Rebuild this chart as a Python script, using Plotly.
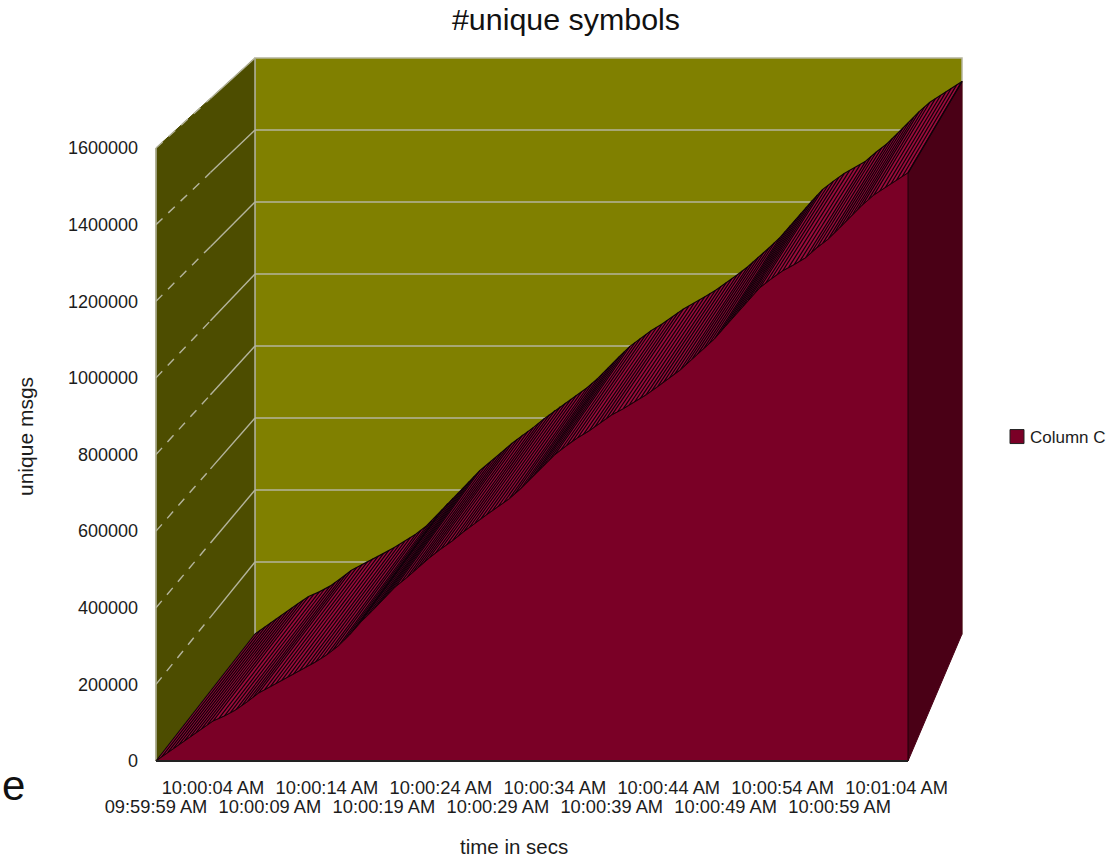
import numpy as np
import plotly.graph_objects as go

# Unique message count sampled once per second, starting at 09:59:59 AM
seconds = list(range(67))
unique_msgs = [
    0, 21000, 42000, 63000, 84000, 104000, 117000, 133000, 154000, 177000,
    193000, 209000, 224000, 240000, 258000, 277000, 300000, 329000, 363000, 392000,
    423000, 454000, 478000, 504000, 530000, 553000, 574000, 598000, 621000, 642000,
    663000, 684000, 710000, 739000, 770000, 799000, 822000, 843000, 861000, 882000,
    903000, 919000, 937000, 955000, 976000, 997000, 1020000, 1047000, 1073000, 1101000,
    1135000, 1169000, 1203000, 1235000, 1258000, 1279000, 1295000, 1313000, 1339000, 1362000,
    1391000, 1420000, 1451000, 1477000, 1496000, 1516000, 1535000,
]
row1_seconds = [5, 15, 25, 35, 45, 55, 65]
row1_labels = ["10:00:04 AM", "10:00:14 AM", "10:00:24 AM", "10:00:34 AM",
               "10:00:44 AM", "10:00:54 AM", "10:01:04 AM"]
row2_seconds = [0, 10, 20, 30, 40, 50, 60]
row2_labels = ["09:59:59 AM", "10:00:09 AM", "10:00:19 AM", "10:00:29 AM",
               "10:00:39 AM", "10:00:49 AM", "10:00:59 AM"]
value_ticks = [0, 200000, 400000, 600000, 800000, 1000000, 1200000, 1400000, 1600000]

# Canvas and the front face of the box, in pixels
W, H = 1118, 858
FRONT_L, FRONT_R, FRONT_T, FRONT_B = 156, 908, 148, 761
# Rear face of the box, in pixels (perspective makes it slightly smaller)
BACK_L, BACK_R, BACK_T, BACK_B = 255, 962, 58, 634

T_MAX = seconds[-1]
V_MAX = value_ticks[-1]
px_per_s = (FRONT_R - FRONT_L) / T_MAX
v_per_px = V_MAX / (FRONT_B - FRONT_T)
x_range = [-FRONT_L / px_per_s, (W - FRONT_L) / px_per_s]
y_range = [(FRONT_B - H) * v_per_px, FRONT_B * v_per_px]


def to_back(t, v):
    """Project a front-plane (time, value) point onto the rear plane of the box."""
    t, v = np.asarray(t, float), np.asarray(v, float)
    sx = (BACK_R - BACK_L) / (FRONT_R - FRONT_L)
    sy = (BACK_B - BACK_T) / (FRONT_B - FRONT_T)
    return (BACK_L - FRONT_L) / px_per_s + t * sx, (FRONT_B - BACK_B) * v_per_px + v * sy


def poly(xs, ys, fill, line=None, width=1, name=None):
    return go.Scatter(x=list(xs), y=list(ys), mode="lines", fill="toself", fillcolor=fill,
                      line=dict(color=line or fill, width=width), hoverinfo="skip",
                      showlegend=False, name=name)


OLIVE, OLIVE_DARK = "#808000", "#4d4d00"
AREA, AREA_SIDE = "#7a0026", "#4a0016"
GRID = "#b4b49c"

t = np.array(seconds, float)
v = np.array(unique_msgs, float)
bt, bv = to_back(t, v)

traces = []

# Rear wall
cx, cy = to_back([0, T_MAX, T_MAX, 0, 0], [0, 0, V_MAX, V_MAX, 0])
traces.append(poly(cx, cy, OLIVE, GRID, 1.5))

# Left wall
lx, ly = to_back([0, 0], [0, V_MAX])
traces.append(poly([0, 0, lx[1], lx[0], 0], [0, V_MAX, ly[1], ly[0], 0], OLIVE_DARK))
traces.append(go.Scatter(x=[0, 0, None, lx[0], lx[1]], y=[0, V_MAX, None, ly[0], ly[1]],
                         mode="lines", line=dict(color=GRID, width=1.5),
                         hoverinfo="skip", showlegend=False))

# Horizontal gridlines on the rear wall, running on along the left wall
for tick in value_ticks[1:]:
    gx, gy = to_back([0, T_MAX], [tick, tick])
    if tick < V_MAX:
        traces.append(go.Scatter(x=gx, y=gy, mode="lines", line=dict(color=GRID, width=1.5),
                                 hoverinfo="skip", showlegend=False))
    # solid near the rear wall, breaking up towards the front
    mx, my = (gx[0] * 0.55, gy[0] * 0.55 + tick * 0.45)
    traces.append(go.Scatter(x=[mx, gx[0]], y=[my, gy[0]], mode="lines",
                             line=dict(color=GRID, width=1.4),
                             hoverinfo="skip", showlegend=False))
    traces.append(go.Scatter(x=[0, mx], y=[tick, my], mode="lines",
                             line=dict(color=GRID, width=1.4, dash="9px,8px"),
                             hoverinfo="skip", showlegend=False))

# Right end of the area, receding to the rear plane
ex, ey = to_back([T_MAX, T_MAX], [0, v[-1]])
traces.append(poly([T_MAX, T_MAX, ex[1], ex[0], T_MAX], [0, v[-1], ey[1], ey[0], 0], AREA_SIDE))

# Upper surface of the area, with a dark facet edge every half second
traces.append(poly(np.r_[t, bt[::-1]], np.r_[v, bv[::-1]], "#9a0c3a", "#10000a", 1.2))
facet_t = np.arange(0, T_MAX + 0.01, 0.5)
facet_v = np.interp(facet_t, t, v)
fbx, fby = to_back(facet_t, facet_v)
hx, hy = [], []
for a, b, c, d in zip(facet_t, facet_v, fbx, fby):
    hx += [a, c, None]
    hy += [b, d, None]
traces.append(go.Scatter(x=hx, y=hy, mode="lines", line=dict(color="#10000a", width=1.2),
                         hoverinfo="skip", showlegend=False))

# Front face of the area
traces.append(poly(np.r_[t, T_MAX, 0, 0], np.r_[v, 0, 0, 0], AREA, "#1c0008", 1))
# Floor line along the bottom of the front face
traces.append(go.Scatter(x=[0, T_MAX], y=[0, 0], mode="lines", line=dict(color="#222222", width=2),
                         hoverinfo="skip", showlegend=False))

# Legend key; it also ties the second time axis into the figure
traces.append(go.Scatter(x=[None], y=[None], xaxis="x2", mode="markers", name="Column C",
                         marker=dict(symbol="square", size=14, color=AREA, angle=90, standoff=7,
                                     line=dict(color="#222222", width=1))))

fig = go.Figure(traces)

FONT = "Liberation Sans"
TEXT = "#1c1c1c"
x_pos = 1 - FRONT_B / H
common_x = dict(range=x_range, domain=[0, 1], anchor="free", position=x_pos, side="bottom",
                showgrid=False, zeroline=False, showline=False, ticks="", tickangle=0,
                tickfont=dict(family=FONT, size=18.3, color=TEXT))
fig.update_layout(
    width=W, height=H, autosize=False,
    margin=dict(l=0, r=0, t=0, b=0),
    paper_bgcolor="white", plot_bgcolor="white",
    font=dict(family=FONT, color=TEXT),
    title=dict(text="#unique symbols", x=566 / W, y=1 - 19 / H, xanchor="center", yanchor="middle",
               font=dict(family=FONT, size=30.4, color="#111111")),
    xaxis=dict(tickmode="array", tickvals=row1_seconds, ticktext=row1_labels,
               ticklabelstandoff=14, **common_x),
    xaxis2=dict(tickmode="array", tickvals=row2_seconds, ticktext=row2_labels,
                ticklabelstandoff=33, overlaying="x", **common_x),
    yaxis=dict(range=y_range, domain=[0, 1], anchor="free", position=FRONT_L / W, side="left",
               tickmode="array", tickvals=value_ticks, ticktext=[str(x) for x in value_ticks],
               showgrid=False, zeroline=False, showline=False, ticks="", ticklabelstandoff=18,
               tickfont=dict(family=FONT, size=18, color=TEXT)),
    legend=dict(x=990 / W, y=1 - 437 / H, xanchor="left", yanchor="middle",
                bgcolor="rgba(0,0,0,0)", font=dict(family=FONT, size=17, color=TEXT)),
    annotations=[
        dict(text="unique msgs", x=25 / W, y=1 - 437 / H, xref="paper", yref="paper", textangle=-90,
             showarrow=False, xanchor="center", yanchor="middle", font=dict(family=FONT, size=21, color=TEXT)),
        dict(text="time in secs", x=514 / W, y=1 - 846 / H, xref="paper", yref="paper",
             showarrow=False, xanchor="center", yanchor="middle", font=dict(family=FONT, size=20.5, color=TEXT)),
        dict(text="e", x=13 / W, y=1 - 785 / H, xref="paper", yref="paper",
             showarrow=False, xanchor="center", yanchor="middle", font=dict(family=FONT, size=42, color="#111111")),
    ],
)

fig.write_html("out.html")
